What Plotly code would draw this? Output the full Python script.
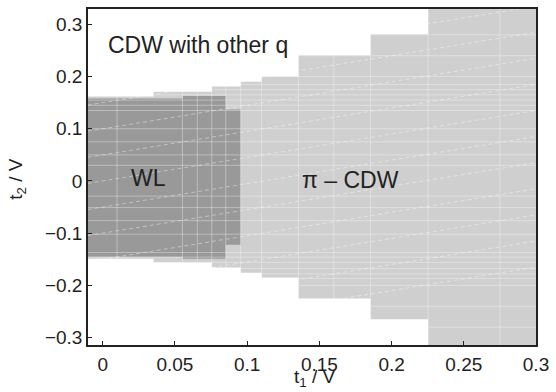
import plotly.graph_objects as go

# ---- data ----
# pi-CDW region (light gray): step edges in t1, upper / lower t2 boundary per step
pi_x_edges = [-0.0125, 0.0352, 0.0755, 0.0955, 0.110, 0.1355, 0.1854, 0.2253, 0.3125]
pi_top = [0.162, 0.171, 0.181, 0.190, 0.200, 0.241, 0.281, 0.35]
pi_bottom = [-0.149, -0.156, -0.166, -0.176, -0.185, -0.225, -0.265, -0.35]

# WL region (dark gray)
wl_x_edges = [-0.0125, 0.0554, 0.0852, 0.0955]
wl_top = [0.158, 0.163, 0.137]
wl_bottom = [-0.145, -0.149, -0.122]

# faint mesh lines of the underlying surface
mesh_t1 = [0.0099, 0.0552, 0.0655, 0.0755, 0.0852, 0.0955, 0.110, 0.1355, 0.160, 0.1854, 0.2253, 0.275]
mesh_t2 = [0.03, 0.05, 0.075, 0.10, 0.135, 0.145, 0.155, 0.165, 0.175, 0.185, 0.20, 0.24, 0.28,
           -0.029, -0.051, -0.076, -0.102, -0.137, -0.146, -0.156, -0.168, -0.178, -0.187, -0.20, -0.24, -0.28]
contour_offsets = [-0.30, -0.25, -0.20, -0.15, -0.10, -0.05, 0.0, 0.05, 0.10, 0.15, 0.20, 0.25]
contour_slope = 0.45

x_ticks = [0, 0.05, 0.1, 0.15, 0.2, 0.25, 0.3]
x_ticklabels = ["0", "0.05", "0.1", "0.15", "0.2", "0.25", "0.3"]
y_ticks = [-0.3, -0.2, -0.1, 0, 0.1, 0.2, 0.3]
y_ticklabels = ["\u22120.3", "\u22120.2", "\u22120.1", "0", "0.1", "0.2", "0.3"]

labels = ["CDW with other q", "WL", "\u03c0 \u2013 CDW"]
label_t1 = [0.0658, 0.0317, 0.1716]
label_t2 = [0.260, 0.006, 0.002]

X_RANGE = [-0.0102, 0.3]
Y_RANGE = [-0.3143, 0.3295]

FONT = "Liberation Sans, Arial"


def step_polygon(edges, top, bottom):
    xs, ys = [], []
    for i in range(len(top)):
        xs += [edges[i], edges[i + 1]]
        ys += [top[i], top[i]]
    for i in reversed(range(len(bottom))):
        xs += [edges[i + 1], edges[i]]
        ys += [bottom[i], bottom[i]]
    xs.append(xs[0]); ys.append(ys[0])
    return xs, ys


fig = go.Figure()

px_, py_ = step_polygon(pi_x_edges, pi_top, pi_bottom)
fig.add_trace(go.Scatter(x=px_, y=py_, mode="lines", fill="toself",
                         fillcolor="#cfcfcf", line=dict(width=0), hoverinfo="skip"))
wx, wy = step_polygon(wl_x_edges, wl_top, wl_bottom)
fig.add_trace(go.Scatter(x=wx, y=wy, mode="lines", fill="toself",
                         fillcolor="#999999", line=dict(width=0), hoverinfo="skip"))

# mesh lines (white, faint)
mx, my = [], []
for v in mesh_t1:
    mx += [v, v, None]; my += [-0.4, 0.4, None]
for h in mesh_t2:
    mx += [-0.02, 0.32, None]; my += [h, h, None]
fig.add_trace(go.Scatter(x=mx, y=my, mode="lines",
                         line=dict(color="rgba(255,255,255,0.35)", width=1), hoverinfo="skip"))
cx, cy = [], []
for c in contour_offsets:
    cx += [-0.02, 0.32, None]
    cy += [c + contour_slope * (-0.02), c + contour_slope * 0.32, None]
fig.add_trace(go.Scatter(x=cx, y=cy, mode="lines",
                         line=dict(color="rgba(255,255,255,0.4)", width=1, dash="4px,3px"),
                         hoverinfo="skip"))

for t, x, y in zip(labels, label_t1, label_t2):
    fig.add_annotation(x=x, y=y, text=t, showarrow=False, xref="x", yref="y",
                       font=dict(family=FONT, size=23, color="#222222"))

fig.add_annotation(x=-0.159, y=0.494, xref="paper", yref="paper", xanchor="center",
                   yanchor="middle", text="t<sub>2</sub> / V",
                   textangle=-90, showarrow=False,
                   font=dict(family=FONT, size=19, color="#222222"))
fig.add_annotation(x=0.507, y=-0.139, xref="paper", yref="paper", xanchor="center",
                   yanchor="bottom", text="t<sub>1</sub> / V", showarrow=False,
                   font=dict(family=FONT, size=19, color="#222222"))

axis_common = dict(showgrid=False, zeroline=False, showline=True, mirror=True,
                   linecolor="#222222", linewidth=1.5, ticks="inside", ticklen=4,
                   tickcolor="#222222",
                   tickfont=dict(family=FONT, size=19, color="#222222"))

fig.update_layout(
    width=556, height=392,
    margin=dict(l=88, r=16, t=7, b=47),
    paper_bgcolor="white", plot_bgcolor="white",
    showlegend=False,
    xaxis=dict(range=X_RANGE, tickvals=x_ticks, ticktext=x_ticklabels,
               ticklabelstandoff=1, **axis_common),
    yaxis=dict(range=Y_RANGE, tickvals=y_ticks, ticktext=y_ticklabels, **axis_common),
)

fig.write_html("out.html")
